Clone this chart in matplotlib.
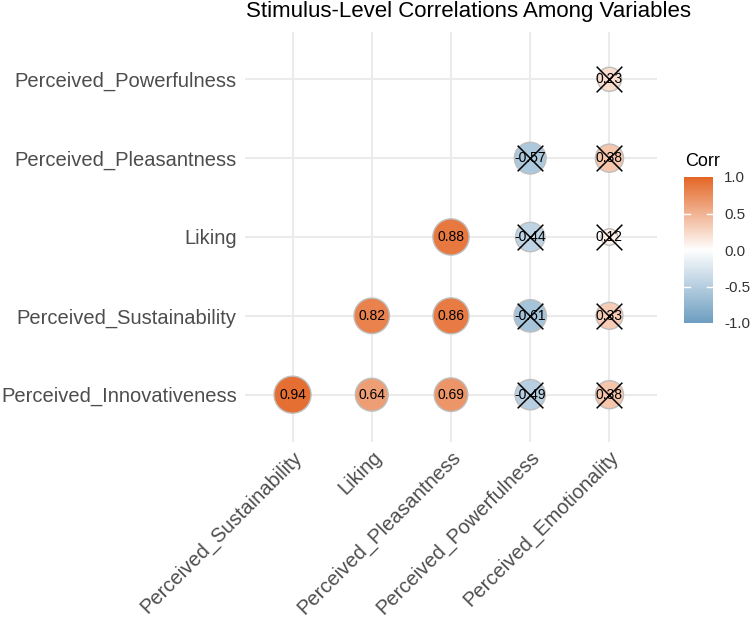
import numpy as np
import matplotlib
matplotlib.use('Agg')
import matplotlib.pyplot as plt
from matplotlib.colors import LinearSegmentedColormap, Normalize

plt.rcParams['font.family'] = ['Liberation Sans', 'DejaVu Sans']

x_vars = ['Perceived_Sustainability', 'Liking', 'Perceived_Pleasantness',
          'Perceived_Powerfulness', 'Perceived_Emotionality']
y_vars = ['Perceived_Innovativeness', 'Perceived_Sustainability', 'Liking',
          'Perceived_Pleasantness', 'Perceived_Powerfulness']

# rows follow y_vars (bottom to top), columns follow x_vars
corr = np.array([
    [0.94, 0.64, 0.69, -0.49, 0.38],
    [np.nan, 0.82, 0.86, -0.61, 0.33],
    [np.nan, np.nan, 0.88, -0.44, 0.12],
    [np.nan, np.nan, np.nan, -0.57, 0.38],
    [np.nan, np.nan, np.nan, np.nan, 0.23],
])
signif = np.array([
    [1, 1, 1, 0, 0],
    [0, 1, 1, 0, 0],
    [0, 0, 1, 0, 0],
    [0, 0, 0, 0, 0],
    [0, 0, 0, 0, 0],
], dtype=bool)

title = 'Stimulus-Level Correlations Among Variables'

cmap = LinearSegmentedColormap.from_list('corr', ['#6D9EC1', '#FFFFFF', '#E46726'])
norm = Normalize(-1, 1)

fig = plt.figure(figsize=(7.5, 6.2), dpi=100)
ax = fig.add_axes([245 / 750, 1 - 442 / 620, 412 / 750, 410 / 620])

yy, xx = np.nonzero(~np.isnan(corr))
vals = corr[yy, xx]
a = np.abs(vals)
size = 4 + 6 * np.sqrt((a - a.min()) / (a.max() - a.min()))
diam_pt = (3.4 * size + 3) * 0.72

ax.scatter(xx, yy, s=diam_pt ** 2, c=vals, cmap=cmap, norm=norm,
           edgecolors='#BEBEBE', linewidths=1.0, zorder=3)
for x, y, v in zip(xx, yy, vals):
    ax.text(x, y, f'{v:.2f}', ha='center', va='center', fontsize=10,
            color='black', zorder=4)
ns = ~signif[yy, xx]
ax.scatter(xx[ns], yy[ns], marker='x', s=18.5 ** 2, c='black',
           linewidths=1.1, zorder=5)

ax.set_xlim(-0.6, len(x_vars) - 0.4)
ax.set_ylim(-0.6, len(y_vars) - 0.4)
ax.set_xticks(range(len(x_vars)))
ax.set_yticks(range(len(y_vars)))
ax.set_xticklabels(x_vars, rotation=45, ha='right', va='top',
                   rotation_mode='anchor', fontsize=14.5, color='#4D4D4D')
ax.set_yticklabels(y_vars, fontsize=14.5, color='#4D4D4D')
ax.tick_params(axis='y', length=0, pad=6)
ax.tick_params(axis='x', length=0, pad=4)
ax.grid(True, color='#EBEBEB', linewidth=1.5, zorder=0)
ax.set_axisbelow(True)
for sp in ax.spines.values():
    sp.set_visible(False)

fig.text(246 / 750, 1 - 12 / 620, title, ha='left', va='center',
         fontsize=16, color='black')

# legend colourbar
cax = fig.add_axes([684 / 750, 1 - 323 / 620, 29 / 750, 146 / 620])
grad = np.linspace(-1, 1, 256).reshape(-1, 1)
cax.imshow(grad, aspect='auto', cmap=cmap, norm=norm, origin='lower',
           extent=[0, 1, -1, 1])
for t in [-0.5, 0.0, 0.5]:
    cax.plot([0, 0.2], [t, t], color='white', lw=1)
    cax.plot([0.8, 1], [t, t], color='white', lw=1)
cax.set_xlim(0, 1)
cax.set_ylim(-1, 1)
cax.set_xticks([])
cax.yaxis.tick_right()
cax.set_yticks([-1, -0.5, 0, 0.5, 1])
cax.set_yticklabels(['-1.0', '-0.5', '0.0', '0.5', '1.0'], fontsize=10.9,
                    color='#333333')
cax.tick_params(length=0, pad=8)
for sp in cax.spines.values():
    sp.set_visible(False)
fig.text(685 / 750, 1 - 161 / 620, 'Corr', ha='left', va='center',
         fontsize=13, color='black')

fig.savefig('out.png', dpi=100)
